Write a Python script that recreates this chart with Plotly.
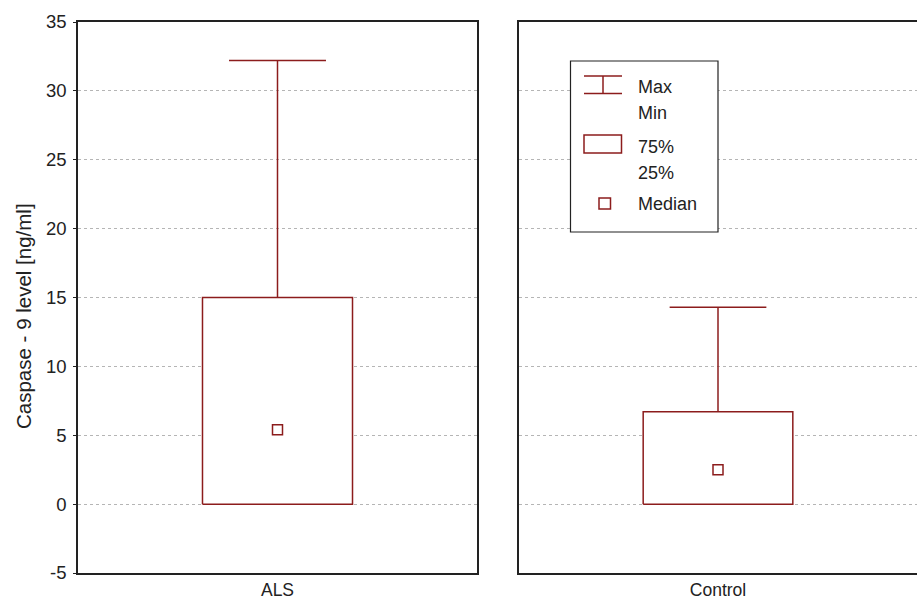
import plotly.graph_objects as go

# ---- data ----
groups = ["ALS", "Control"]
max_vals = [32.2, 14.3]
q3_vals = [15.0, 6.7]
median_vals = [5.4, 2.5]
q1_vals = [0.0, 0.0]
min_vals = [0.0, 0.0]

y_ticks = [-5, 0, 5, 10, 15, 20, 25, 30, 35]
y_tick_labels = ["-5", "0", "5", "10", "15", "20", "25", "30", "35"]

RED = "#8c1c1c"
W, H = 917, 599
ML, MR, MT, MB = 78, 0, 22, 26
PW, PH = W - ML - MR, H - MT - MB

BOX_HALF = 0.376   # half box width in panel units (panel range -1..1)
CAP_HALF = 0.243   # half cap width

fig = go.Figure()

for i, g in enumerate(groups):
    xr = "x" if i == 0 else "x2"
    yr = "y" if i == 0 else "y2"
    c = 0
    fig.add_trace(go.Scatter(
        x=[c - BOX_HALF, c + BOX_HALF, c + BOX_HALF, c - BOX_HALF, c - BOX_HALF],
        y=[q1_vals[i], q1_vals[i], q3_vals[i], q3_vals[i], q1_vals[i]],
        mode="lines", fill="toself", fillcolor="white",
        line=dict(color=RED, width=1.5), xaxis=xr, yaxis=yr,
        showlegend=False, hoverinfo="skip"))
    fig.add_trace(go.Scatter(
        x=[c, c, None, c - CAP_HALF, c + CAP_HALF],
        y=[q3_vals[i], max_vals[i], None, max_vals[i], max_vals[i]],
        mode="lines", line=dict(color=RED, width=1.5), xaxis=xr, yaxis=yr,
        showlegend=False, hoverinfo="skip"))
    if min_vals[i] < q1_vals[i]:
        fig.add_trace(go.Scatter(
            x=[c, c, None, c - CAP_HALF, c + CAP_HALF],
            y=[q1_vals[i], min_vals[i], None, min_vals[i], min_vals[i]],
            mode="lines", line=dict(color=RED, width=1.5), xaxis=xr, yaxis=yr,
            showlegend=False, hoverinfo="skip"))
    fig.add_trace(go.Scatter(
        x=[c], y=[median_vals[i]], mode="markers",
        marker=dict(symbol="square", size=10, color="white",
                    line=dict(color=RED, width=1.5)),
        xaxis=xr, yaxis=yr, showlegend=False, hoverinfo="skip"))

axis_common = dict(showline=True, linecolor="#222", linewidth=1.5, zeroline=False,
                   automargin=False)
grid = dict(showgrid=True, gridcolor="#b5b5b5", gridwidth=1, griddash="dot")

fig.update_layout(
    width=W, height=H,
    margin=dict(l=ML, r=MR, t=MT, b=MB),
    paper_bgcolor="white", plot_bgcolor="white",
    font=dict(family="Liberation Sans, Arial, sans-serif", color="#222"),
    xaxis=dict(domain=[0, 399 / PW], range=[-1, 1], tickvals=[0], ticktext=[groups[0]],
               mirror=True, ticks="", showgrid=False, tickfont=dict(size=17.5),
               ticklabelstandoff=0, anchor="y", **axis_common),
    xaxis2=dict(domain=[441 / PW, 1], range=[-1, 1], tickvals=[0], ticktext=[groups[1]],
                mirror=True, ticks="", showgrid=False, tickfont=dict(size=17.5),
                ticklabelstandoff=0, anchor="y2", **axis_common),
    yaxis=dict(range=[-5, 35], tickvals=y_ticks, ticktext=y_tick_labels,
               ticks="outside", ticklen=3,
               tickcolor="#222", tickfont=dict(size=18.5), ticklabelstandoff=3,
               mirror=True, anchor="x", **axis_common, **grid),
    yaxis2=dict(range=[-5, 35], tickvals=y_ticks, showticklabels=False,
                ticks="", matches="y", anchor="x2", mirror=False,
                **axis_common, **grid),
)

def px(x):
    return (x - ML) / PW

def py(y):
    return (H - MB - y) / PH

shapes = [
    dict(type="rect", xref="paper", yref="paper", x0=px(570.5), x1=px(718), y0=py(232), y1=py(61),
         line=dict(color="#222", width=1.2), fillcolor="white", layer="above"),
    dict(type="line", xref="paper", yref="paper", x0=px(584), x1=px(622), y0=py(76), y1=py(76),
         line=dict(color=RED, width=1.5)),
    dict(type="line", xref="paper", yref="paper", x0=px(584), x1=px(622), y0=py(93.5), y1=py(93.5),
         line=dict(color=RED, width=1.5)),
    dict(type="line", xref="paper", yref="paper", x0=px(603), x1=px(603), y0=py(76), y1=py(93.5),
         line=dict(color=RED, width=1.5)),
    dict(type="rect", xref="paper", yref="paper", x0=px(584), x1=px(621.5), y0=py(153), y1=py(135),
         line=dict(color=RED, width=1.5)),
    dict(type="rect", xref="paper", yref="paper", x0=px(599), x1=px(610.5), y0=py(209), y1=py(198),
         line=dict(color=RED, width=1.5)),
]
fig.update_layout(shapes=shapes)

legend_labels = [("Max", 87), ("Min", 112.5), ("75%", 146.5), ("25%", 172.5), ("Median", 204)]
annotations = [
    dict(text=t, xref="paper", yref="paper", x=px(636), y=py(yy), xanchor="left",
         yanchor="middle", showarrow=False, font=dict(size=18, color="#222"))
    for t, yy in legend_labels
]
annotations.append(dict(text="Caspase - 9 level [ng/ml]", xref="paper", yref="paper",
                        x=px(23), y=py(316), xanchor="center", yanchor="middle",
                        textangle=-90, showarrow=False, font=dict(size=20.5, color="#222")))
fig.update_layout(annotations=annotations)

fig.write_html("out.html", config={"displayModeBar": False},
               post_script="document.body.style.margin='0';document.body.style.padding='0';")
